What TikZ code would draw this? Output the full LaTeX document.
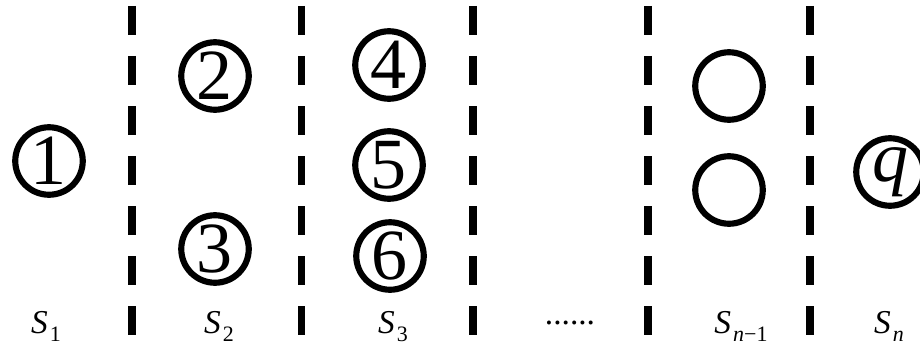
\documentclass[tikz,border=0pt]{standalone}
\usepackage{fontspec}
\setmainfont{Liberation Serif}
\usepackage{tikz}
\usetikzlibrary{positioning}
\tikzset{
    stage/.style = {circle, draw, line width=3.5pt, minimum size=1.35cm, inner sep=0pt,
                    font=\fontsize{41}{46}\selectfont},
    cut/.style = {line width=4.2pt, dash pattern=on 0.58cm off 0.42cm},
    lbl/.style = {anchor=base, inner sep=0pt, font=\fontsize{19}{22}\selectfont}
}
% set name with a dropped index
\newcommand{\setname}[1]{\textit{S}\kern1.2pt\raisebox{-4.8pt}{\fontsize{12.5}{14}\selectfont #1}}

\begin{document}
\begin{tikzpicture}
  \useasboundingbox (0,0) rectangle (18.4,6.98);

  % separators between the sets
  \draw[cut] (2.64,6.86) -- (2.64,0.28);
  \draw[cut] (6.03,6.86) -- (6.03,0.28);
  \draw[cut] (9.46,6.86) -- (9.46,0.28);
  \draw[cut] (12.96,6.86) -- (12.96,0.28);
  \draw[cut] (16.20,6.86) -- (16.20,0.28);

  % states
  \node[stage] (s1) at (0.98,3.76) {1};
  \node[stage] (s2) at (4.30,5.46) {2};
  \node[stage] (s3) at (4.30,2.00) {3};
  \node[stage] (s4) at (7.78,5.68) {4};
  \node[stage] (s5) at (7.78,3.68) {5};
  \node[stage] (s6) at (7.80,1.86) {6};
  \node[stage] (e1) at (14.58,5.26) {};
  \node[stage] (e2) at (14.58,3.18) {};
  \node[stage] (sq) at (17.80,3.54) {\textit{q}};

  % set names
  \node[lbl] (l1) at (0.92,0.32) {\setname{1}};
  \node[lbl] (l2) at (4.38,0.32) {\setname{2}};
  \node[lbl] (l3) at (7.86,0.32) {\setname{3}};
  \node[lbl] (ld) at (11.40,0.50) {......};
  \node[lbl] (l4) at (14.82,0.32) {\setname{\textit{n}−1}};
  \node[lbl] (l5) at (17.78,0.32) {\setname{\textit{n}}};
\end{tikzpicture}
\end{document}
